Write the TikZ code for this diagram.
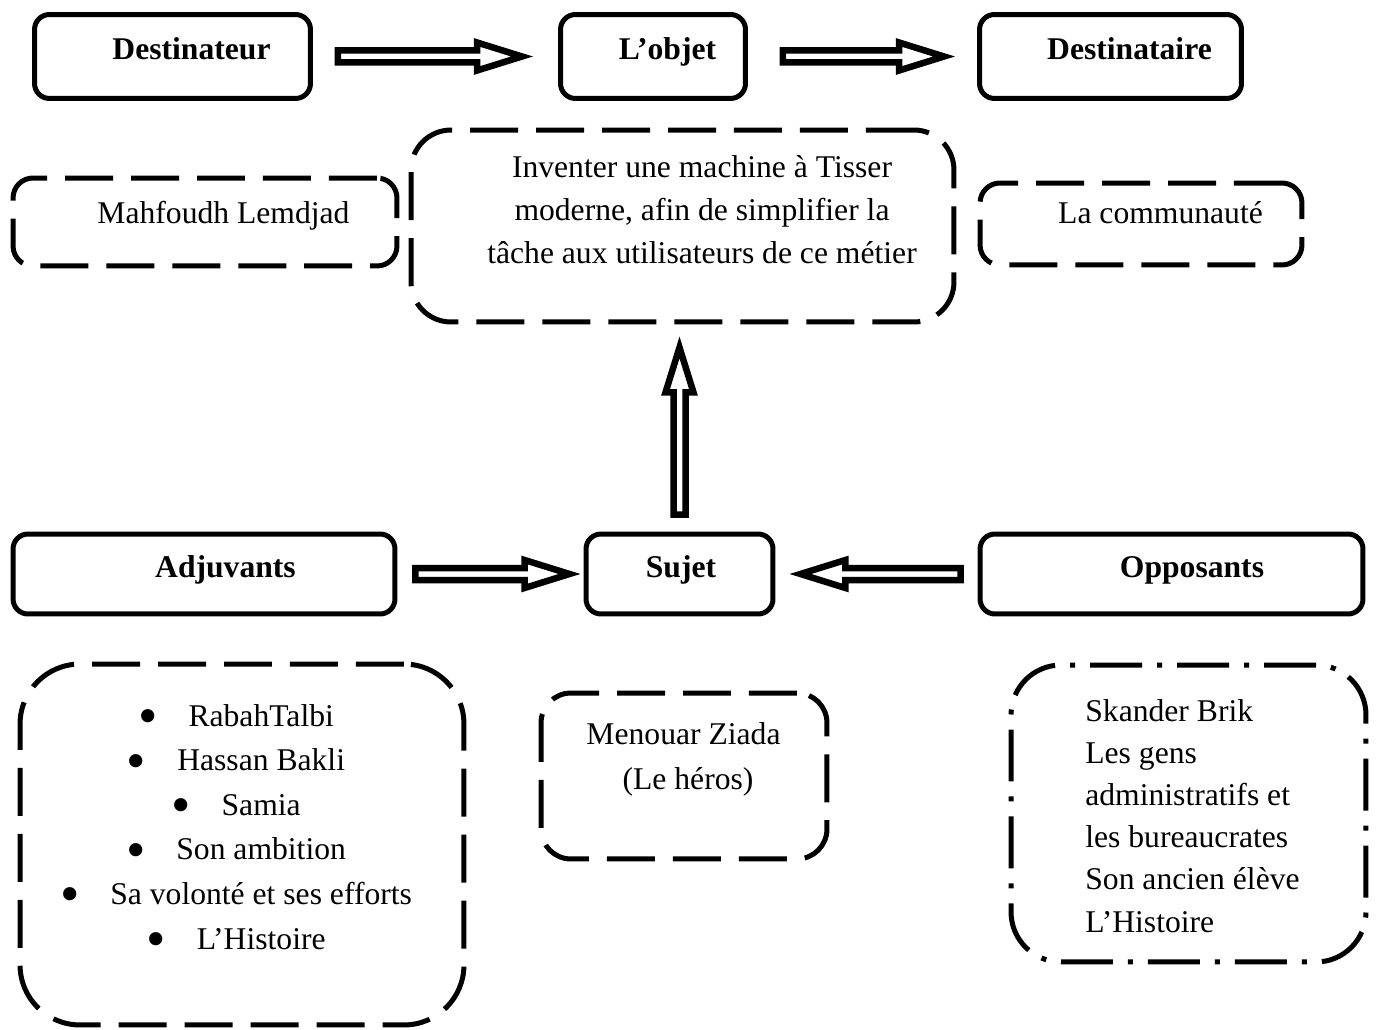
\documentclass[tikz,border=0pt]{standalone}
\usepackage{fontspec}
\usepackage{graphicx}
\setmainfont{Liberation Serif}
\usetikzlibrary{calc,positioning}

\tikzset{
  solidbox/.style={draw, rectangle, rounded corners=0.3cm, line width=0.1cm, inner sep=0, minimum height=1.68cm},
  dashbox/.style={draw, rectangle, line width=0.1cm, inner sep=0, dash pattern=on 0.96cm off 0.36cm},
  dotbox/.style={draw, rectangle, line width=0.1cm, inner sep=0, dash pattern=on 1.04cm off 0.3cm on 0.1cm off 0.3cm},
  txt/.style={font=\fontsize{18}{24}\selectfont, inner sep=0, anchor=base},
  title/.style={txt, font=\fontsize{18}{24}\selectfont\bfseries},
  hollow/.style={draw, line width=0.13cm, line join=miter}
}

% big list bullet
\newcommand\bigbullet{\raisebox{-0.27em}{\scalebox{1.75}{\textbullet}}\hspace{0.62cm}}

% hollow block arrow: from, to, gap at tail, gap at tip
\newcommand\hollowarrow[4]{%
  \coordinate (ha-s) at ($(#1)!#3!(#2)$);
  \coordinate (ha-e) at ($(#2)!#4!(#1)$);
  \coordinate (ha-h) at ($(ha-e)!0.9cm!(ha-s)$);
  \draw[hollow] ($(ha-s)!0.12cm!90:(ha-e)$) -- ($(ha-h)!0.12cm!-90:(ha-s)$) -- ($(ha-h)!0.28cm!-90:(ha-s)$)
    -- (ha-e) -- ($(ha-h)!0.28cm!90:(ha-s)$) -- ($(ha-h)!0.12cm!90:(ha-s)$) -- ($(ha-s)!0.12cm!-90:(ha-e)$) -- cycle;
}

\begin{document}
\begin{tikzpicture}[x=0.02cm, y=-0.02cm]
\useasboundingbox (0,0) rectangle (1379,1030);
% Top row
\node[solidbox, minimum width=5.52cm] (dest) at (172.5,56.5) {};
\node[solidbox, minimum width=3.7cm] (objet) at (653,56.5) {};
\node[solidbox, minimum width=5.24cm] (destre) at (1110.5,56.5) {};
\node[title] (dest-t) at (191.5,60) {Destinateur};
\node[title] (objet-t) at (667.5,60) {L’objet};
\node[title] (destre-t) at (1129.5,60) {Destinataire};
\hollowarrow{dest.east}{objet.west}{0.5cm}{0.72cm}
\hollowarrow{objet.east}{destre.west}{0.7cm}{0.66cm}
% Second row
\node[dashbox, rounded corners=0.4cm, minimum width=7.68cm, minimum height=1.76cm] (mahf) at (205,222) {};
\node[dashbox, rounded corners=0.8cm, minimum width=10.86cm, minimum height=3.84cm] (but) at (682.5,226) {};
\node[dashbox, rounded corners=0.4cm, minimum width=6.44cm, minimum height=1.64cm] (comm) at (1141,224) {};
\node[txt] (mahf-t) at (223.5,224) {Mahfoudh Lemdjad};
\node[txt] (comm-t) at (1160.5,224) {La communauté};
\foreach \entry [count=\i] in {Inventer une machine à Tisser, {moderne, afin de simplifier la}, tâche aux utilisateurs de ce métier}
  \node[txt] (but-\i) at (702,{178+(\i-1)*43}) {\entry};
% Third row
\node[solidbox, minimum width=7.64cm, minimum height=1.6cm] (adj) at (204,574) {};
\node[solidbox, minimum width=3.74cm, minimum height=1.6cm] (sujet) at (679.5,574) {};
\node[solidbox, minimum width=7.66cm, minimum height=1.6cm] (opp) at (1171.5,574) {};
\node[title] (adj-t) at (225.5,577) {Adjuvants};
\node[title] (sujet-t) at (681,577) {Sujet};
\node[title] (opp-t) at (1192,577) {Opposants};
\hollowarrow{adj.east}{sujet.west}{0.36cm}{0.28cm}
\hollowarrow{opp.west}{sujet.east}{0.34cm}{0.5cm}
\hollowarrow{sujet.north}{sujet.north |- but.south}{0.34cm}{0.46cm}
% Bottom row
\node[dashbox, rounded corners=1.2cm, minimum width=8.88cm, minimum height=7.22cm] (adjlist) at (242,844.5) {};
\node[dashbox, rounded corners=0.6cm, minimum width=5.72cm, minimum height=3.32cm] (hero) at (684,776) {};
\node[dotbox, rounded corners=1cm, minimum width=7.1cm, minimum height=5.94cm] (opplist) at (1188.5,813.5) {};
\foreach \entry [count=\i] in {RabahTalbi, Hassan Bakli, Samia, Son ambition, Sa volonté et ses efforts, L’Histoire}
  \node[txt] (adj-\i) at (236,{726+(\i-1)*44.6}) {\bigbullet\entry};
\node[txt] (hero-1) at (683.5,744) {Menouar Ziada};
\node[txt] (hero-2) at (688,789) {(Le héros)};
\foreach \entry [count=\i] in {Skander Brik, Les gens, administratifs et, les bureaucrates, Son ancien élève, L’Histoire}
  \node[txt, anchor=base west] (opp-\i) at (1085,{721+(\i-1)*42.2}) {\entry};
\end{tikzpicture}
\end{document}
